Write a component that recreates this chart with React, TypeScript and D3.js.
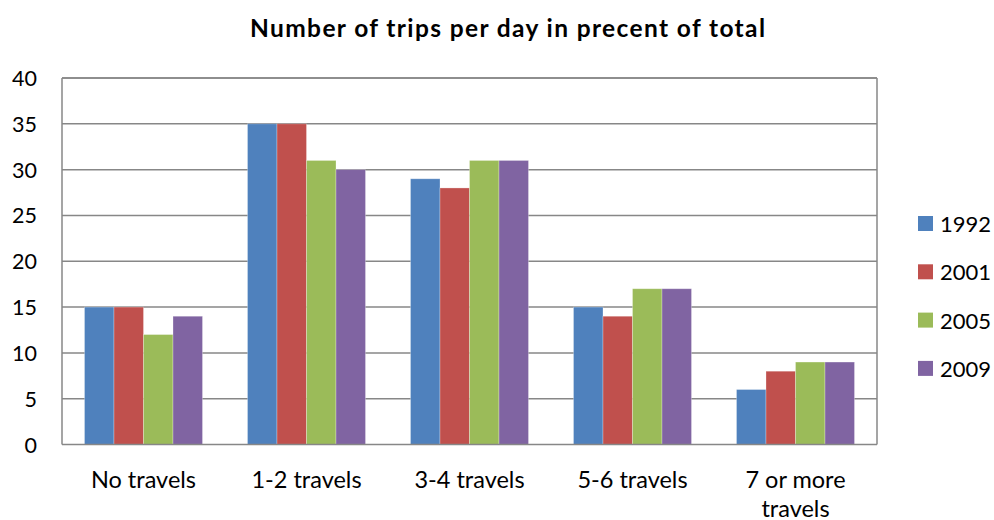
import React from "react";
import * as d3 from "d3";

const categories = ["No travels", "1-2 travels", "3-4 travels", "5-6 travels", "7 or more travels"];
const categoryLines = [["No travels"], ["1-2 travels"], ["3-4 travels"], ["5-6 travels"], ["7 or more", "travels"]];
const seriesNames = ["1992", "2001", "2005", "2009"];
const v1992 = [15, 35, 29, 15, 6];
const v2001 = [15, 35, 28, 14, 8];
const v2005 = [12, 31, 31, 17, 9];
const v2009 = [14, 30, 31, 17, 9];
const seriesValues = [v1992, v2001, v2005, v2009];
const colors = ["#4F81BD", "#C0504D", "#9BBB59", "#8064A2"];
const yTicks = [0, 5, 10, 15, 20, 25, 30, 35, 40];
const title = "Number of trips per day in precent of total";

const W = 994, H = 520;
const left = 62, right = 877, top = 78, bottom = 444.5;
const font = "Lato, 'Open Sans', sans-serif";

export default function App() {
  const x0 = d3.scaleBand().domain(categories).range([left, right]).paddingInner(0.276).paddingOuter(0.138);
  const x1 = d3.scaleBand().domain(seriesNames).range([0, x0.bandwidth()]);
  const y = d3.scaleLinear().domain([0, 40]).range([bottom, top]);

  return (
    <svg width={W} height={H} style={{ position: "absolute", left: 0, top: 0, background: "#fff" }}>
      <rect x={0} y={0} width={W} height={H} fill="#fff" />
      <text x={250} y={36.5} fontFamily={font} fontWeight="bold" fontSize={24.5} fill="#000"
        textLength={515} lengthAdjust="spacing">{title}</text>
      {yTicks.map(t => (
        <g key={t}>
          {t > 0 && <line x1={left} x2={right} y1={y(t)} y2={y(t)} stroke="#878787" strokeWidth={1.5} />}
          <text x={37} y={y(t) + 8} textAnchor="end" fontFamily={font} fontSize={21.5} fill="#000">{t}</text>
        </g>
      ))}
      {categories.map((c, i) => (
        <g key={c}>
          {seriesNames.map((s, j) => {
            const v = seriesValues[j][i];
            return (
              <rect key={s} x={(x0(c) as number) + (x1(s) as number)} y={y(v)} width={x1.bandwidth()} height={bottom - y(v)}
                fill={colors[j]} stroke="rgba(255,255,255,0.35)" strokeWidth={0.8} />
            );
          })}
          {categoryLines[i].map((ln, k) => (
            <text key={k} x={(x0(c) as number) + x0.bandwidth() / 2} y={488 + k * 28.5} textAnchor="middle" fontFamily={font} fontSize={23.5} fill="#000">{ln}</text>
          ))}
        </g>
      ))}
      <line x1={left} x2={left} y1={top} y2={bottom} stroke="#878787" strokeWidth={1.5} />
      <line x1={left} x2={right} y1={bottom} y2={bottom} stroke="#878787" strokeWidth={1.5} />
      <line x1={left} x2={right} y1={top} y2={top} stroke="#878787" strokeWidth={1.5} />
      <line x1={right} x2={right} y1={top} y2={bottom} stroke="#878787" strokeWidth={1.5} />
      {seriesNames.map((s, j) => (
        <g key={s}>
          <rect x={918} y={216 + j * 48.3} width={15} height={15} fill={colors[j]} />
          <text x={940} y={232 + j * 48.3} fontFamily={font} fontSize={22} fill="#000">{s}</text>
        </g>
      ))}
    </svg>
  );
}
